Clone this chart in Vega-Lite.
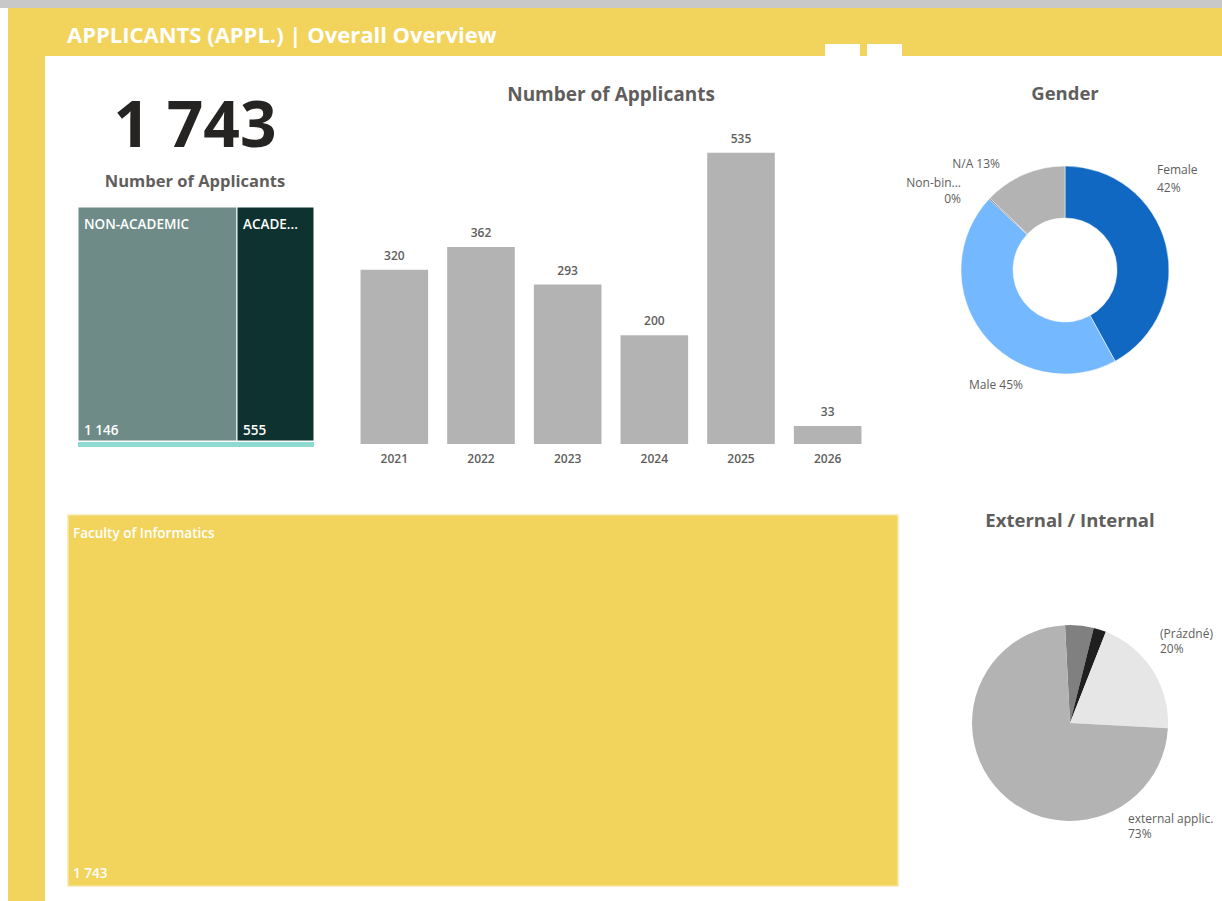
{
  "$schema": "https://vega.github.io/schema/vega-lite/v6.json",
  "padding": 0,
  "background": "#ffffff",
  "spacing": 0,
  "resolve": {"scale": {"color": "independent"}},
  "config": {
    "view": {"stroke": null},
    "concat": {"spacing": 0},
    "font": "Open Sans",
    "text": {"font": "Open Sans"},
    "axis": {"labelFont": "Open Sans"},
    "locale": {"number": {"decimal": ",", "thousands": " ", "grouping": [3], "currency": ["", " Kč"]}}
  },
  "datasets": {
    "blank": [{}],
    "byYear": [
      {"year": "2021", "applicants": 320},
      {"year": "2022", "applicants": 362},
      {"year": "2023", "applicants": 293},
      {"year": "2024", "applicants": 200},
      {"year": "2025", "applicants": 535},
      {"year": "2026", "applicants": 33}
    ],
    "segments": [
      {"segment": "NON-ACADEMIC", "applicants": 1146, "order": 1},
      {"segment": "ACADEMIC", "applicants": 555, "order": 2}
    ],
    "segmentOther": [{"segment": "(Blank)", "applicants": 42}],
    "gender": [
      {"gender": "Female", "applicants": 732, "order": 1},
      {"gender": "Male", "applicants": 784, "order": 2},
      {"gender": "Non-binary", "applicants": 3, "order": 3},
      {"gender": "N/A", "applicants": 224, "order": 4}
    ],
    "faculty": [{"faculty": "Faculty of Informatics", "applicants": 1743}],
    "extint": [
      {"type": "internal applic.", "applicants": 82, "order": 1},
      {"type": "other", "applicants": 36, "order": 2},
      {"type": "(Prázdné)", "applicants": 347, "order": 3},
      {"type": "external applic.", "applicants": 1278, "order": 4}
    ]
  },
  "vconcat": [
    {"width": 1222, "height": 8, "data": {"name": "blank"}, "mark": {"type": "rect", "color": "#C8C8C8"}, "encoding": {}},
    {"hconcat": [
      {"width": 8, "height": 893, "data": {"name": "blank"}, "mark": {"type": "rect", "opacity": 0}, "encoding": {}},
      {"vconcat": [
        {"hconcat": [
          {"width": 817, "height": 48,
           "layer": [
             {"data": {"name": "blank"}, "mark": {"type": "rect", "color": "#F2D35C"}, "encoding": {}},
             {"data": {"values": [{"title": "APPLICANTS (APPL.) | Overall Overview"}]},
              "mark": {"type": "text", "align": "left", "dx": -349.5, "dy": 4, "fontSize": 22, "fontWeight": "bold", "color": "#ffffff"},
              "encoding": {"text": {"field": "title"}}}
           ]},
          {"vconcat": [
            {"width": 35, "height": 36, "data": {"name": "blank"}, "mark": {"type": "rect", "color": "#F2D35C"}, "encoding": {}},
            {"width": 35, "height": 12, "data": {"name": "blank"}, "mark": {"type": "rect", "color": "#ffffff"}, "encoding": {}}
          ], "spacing": 0},
          {"width": 7, "height": 48, "data": {"name": "blank"}, "mark": {"type": "rect", "color": "#F2D35C"}, "encoding": {}},
          {"vconcat": [
            {"width": 35, "height": 36, "data": {"name": "blank"}, "mark": {"type": "rect", "color": "#F2D35C"}, "encoding": {}},
            {"width": 35, "height": 12, "data": {"name": "blank"}, "mark": {"type": "rect", "color": "#ffffff"}, "encoding": {}}
          ], "spacing": 0},
          {"width": 320, "height": 48, "data": {"name": "blank"}, "mark": {"type": "rect", "color": "#F2D35C"}, "encoding": {}}
        ], "spacing": 0},
        {"hconcat": [
          {"width": 37, "height": 845, "data": {"name": "blank"}, "mark": {"type": "rect", "color": "#F2D35C"}, "encoding": {}},
          {"vconcat": [
            {"hconcat": [
              {"vconcat": [
                {"width": 306, "height": 150,
                 "layer": [
                   {"data": {"name": "byYear"},
                    "transform": [{"aggregate": [{"op": "sum", "field": "applicants", "as": "total"}]}],
                    "mark": {"type": "text", "fontSize": 64, "fontWeight": "bold", "color": "#252423", "dx": -3, "dy": -3},
                    "encoding": {"text": {"field": "total", "type": "quantitative", "format": ",d"}}},
                   {"data": {"values": [{"label": "Number of Applicants"}]},
                    "mark": {"type": "text", "fontSize": 16.5, "fontWeight": "bold", "color": "#605E5C", "dx": -3, "dy": 51},
                    "encoding": {"text": {"field": "label"}}}
                 ]},
                {"hconcat": [
                  {"width": 32, "height": 239, "data": {"name": "blank"}, "mark": {"type": "rect", "opacity": 0}, "encoding": {}},
                  {"vconcat": [
                    {"width": 236, "height": 234, "data": {"name": "segments"},
                     "transform": [{"stack": "applicants", "groupby": [], "sort": [{"field": "order", "order": "ascending"}], "as": ["x0", "x1"]}],
                     "layer": [
                       {"mark": {"type": "rect", "stroke": "#ffffff", "strokeWidth": 1},
                        "encoding": {
                          "x": {"field": "x0", "type": "quantitative", "axis": null, "scale": {"nice": false, "zero": true}},
                          "x2": {"field": "x1"},
                          "color": {"field": "segment", "type": "nominal", "legend": null, "scale": {"domain": ["NON-ACADEMIC", "ACADEMIC"], "range": ["#6E8B88", "#0E3230"]}}}},
                       {"transform": [{"filter": "datum.segment === 'NON-ACADEMIC'"}],
                        "mark": {"type": "text", "align": "left", "dx": 6, "dy": -99, "fontSize": 13.5, "fontWeight": 600, "color": "#ffffff"},
                        "encoding": {"x": {"field": "x0", "type": "quantitative"}, "text": {"field": "segment"}}},
                       {"transform": [{"filter": "datum.segment === 'ACADEMIC'"}],
                        "mark": {"type": "text", "align": "left", "dx": 6, "dy": -99, "fontSize": 13.5, "fontWeight": 600, "color": "#ffffff", "limit": 62, "ellipsis": "..."},
                        "encoding": {"x": {"field": "x0", "type": "quantitative"}, "text": {"field": "segment"}}},
                       {"mark": {"type": "text", "align": "left", "dx": 6, "dy": 107, "fontSize": 13.5, "fontWeight": 600, "color": "#ffffff"},
                        "encoding": {"x": {"field": "x0", "type": "quantitative"}, "text": {"field": "applicants", "type": "quantitative", "format": ",d"}}}
                     ]},
                    {"width": 236, "height": 5, "data": {"name": "segmentOther"},
                     "mark": {"type": "rect", "color": "#8ED9D0"},
                     "encoding": {"x": {"field": "applicants", "type": "quantitative", "axis": null, "scale": {"nice": false}}, "x2": {"datum": 0}}}
                  ], "spacing": 0, "resolve": {"scale": {"color": "independent"}}}
                ], "spacing": 0, "resolve": {"scale": {"color": "independent"}}}
              ], "spacing": 0, "resolve": {"scale": {"color": "independent"}}},
              {"width": 520, "height": 388, "data": {"name": "byYear"},
               "layer": [
                 {"mark": {"type": "bar", "color": "#B3B3B3"},
                  "encoding": {
                    "x": {"field": "year", "type": "ordinal", "scale": {"paddingInner": 0.22, "paddingOuter": 0.11},
                          "axis": {"title": null, "domain": false, "ticks": false, "tickSize": 0, "labelPadding": 9, "labelFontSize": 12, "labelFontWeight": 600, "labelColor": "#605E5C", "labelAngle": 0, "grid": false}},
                    "y": {"field": "applicants", "type": "quantitative", "scale": {"domain": [0, 713], "nice": false}, "axis": null}}},
                 {"mark": {"type": "text", "dy": -14, "fontSize": 12, "fontWeight": 600, "color": "#605E5C"},
                  "encoding": {
                    "x": {"field": "year", "type": "ordinal"},
                    "y": {"field": "applicants", "type": "quantitative"},
                    "text": {"field": "applicants", "type": "quantitative", "format": ",d"}}},
                 {"data": {"values": [{"t": "Number of Applicants"}]},
                  "mark": {"type": "text", "dy": -155, "fontSize": 19, "fontWeight": "bold", "color": "#605E5C"},
                  "encoding": {"text": {"field": "t"}}}
               ]},
              {"width": 35, "height": 428, "data": {"name": "blank"}, "mark": {"type": "rect", "opacity": 0}, "encoding": {}},
              {"width": 310, "height": 428,
               "layer": [
                 {"data": {"name": "gender"},
                  "mark": {"type": "arc", "innerRadius": 52, "outerRadius": 104, "stroke": "#ffffff", "strokeWidth": 0.5},
                  "encoding": {
                    "theta": {"field": "applicants", "type": "quantitative", "stack": true},
                    "order": {"field": "order", "type": "quantitative"},
                    "color": {"field": "gender", "type": "nominal", "legend": null, "scale": {"domain": ["Female", "Male", "Non-binary", "N/A"], "range": ["#1168C2", "#74B9FF", "#5A5A5A", "#B3B3B3"]}}}},
                 {"data": {"name": "gender"},
                  "transform": [
                    {"joinaggregate": [{"op": "sum", "field": "applicants", "as": "total"}]},
                    {"calculate": "datum.gender + '\\n' + format(datum.applicants / datum.total, '.0%')", "as": "lab"},
                    {"filter": "datum.gender === 'Female'"}],
                  "mark": {"type": "text", "align": "left", "dx": 92, "dy": -100, "fontSize": 12, "color": "#605E5C", "lineBreak": "\n", "lineHeight": 18},
                  "encoding": {"text": {"field": "lab"}}},
                 {"data": {"name": "gender"},
                  "transform": [
                    {"joinaggregate": [{"op": "sum", "field": "applicants", "as": "total"}]},
                    {"calculate": "datum.gender + ' ' + format(datum.applicants / datum.total, '.0%')", "as": "lab"},
                    {"filter": "datum.gender === 'N/A'"}],
                  "mark": {"type": "text", "align": "right", "dx": -65, "dy": -106, "fontSize": 12, "color": "#605E5C"},
                  "encoding": {"text": {"field": "lab"}}},
                 {"data": {"name": "gender"},
                  "transform": [
                    {"joinaggregate": [{"op": "sum", "field": "applicants", "as": "total"}]},
                    {"calculate": "datum.gender + ' ' + format(datum.applicants / datum.total, '.0%')", "as": "lab"},
                    {"filter": "datum.gender === 'Male'"}],
                  "mark": {"type": "text", "align": "right", "dx": -42, "dy": 115, "fontSize": 12, "color": "#605E5C"},
                  "encoding": {"text": {"field": "lab"}}},
                 {"data": {"name": "gender"},
                  "transform": [
                    {"joinaggregate": [{"op": "sum", "field": "applicants", "as": "total"}]},
                    {"calculate": "format(datum.applicants / datum.total, '.0%')", "as": "lab"},
                    {"filter": "datum.gender === 'Non-binary'"}],
                  "layer": [
                    {"mark": {"type": "text", "align": "right", "dx": -104, "dy": -87, "fontSize": 12, "color": "#605E5C", "limit": 60, "ellipsis": "..."},
                     "encoding": {"text": {"field": "gender"}}},
                    {"mark": {"type": "text", "align": "right", "dx": -104, "dy": -71, "fontSize": 12, "color": "#605E5C"},
                     "encoding": {"text": {"field": "lab"}}}
                  ]},
                 {"data": {"values": [{"t": "Gender"}]},
                  "mark": {"type": "text", "dy": -176, "fontSize": 18.5, "fontWeight": "bold", "color": "#605E5C"},
                  "encoding": {"text": {"field": "t"}}}
               ]}
            ], "spacing": 0, "resolve": {"scale": {"color": "independent"}}},
            {"hconcat": [
              {"width": 22, "height": 401, "data": {"name": "blank"}, "mark": {"type": "rect", "opacity": 0}, "encoding": {}},
              {"vconcat": [
                {"width": 830, "height": 30, "data": {"name": "blank"}, "mark": {"type": "rect", "opacity": 0}, "encoding": {}},
                {"width": 830, "height": 371, "data": {"name": "faculty"},
                 "layer": [
                   {"mark": {"type": "rect", "color": "#F2D35C", "stroke": "#F8E7A8", "strokeWidth": 1.5},
                    "encoding": {"x": {"field": "applicants", "type": "quantitative", "axis": null, "scale": {"nice": false}}, "x2": {"datum": 0}}},
                   {"mark": {"type": "text", "align": "left", "dx": 5, "dy": -167, "fontSize": 13.5, "fontWeight": 600, "color": "#ffffff"},
                    "encoding": {"x": {"datum": 0, "type": "quantitative"}, "text": {"field": "faculty"}}},
                   {"mark": {"type": "text", "align": "left", "dx": 5, "dy": 173, "fontSize": 13.5, "fontWeight": 600, "color": "#ffffff"},
                    "encoding": {"x": {"datum": 0, "type": "quantitative"}, "text": {"field": "applicants", "type": "quantitative", "format": ",d"}}}
                 ]}
              ], "spacing": 0},
              {"width": 21, "height": 401, "data": {"name": "blank"}, "mark": {"type": "rect", "opacity": 0}, "encoding": {}},
              {"vconcat": [
                {"width": 300, "height": 78, "data": {"values": [{"t": "External / Internal"}]},
                 "mark": {"type": "text", "fontSize": 18.5, "fontWeight": "bold", "color": "#605E5C", "dy": -2},
                 "encoding": {"text": {"field": "t"}}},
                {"width": 300, "height": 322,
                 "layer": [
                   {"data": {"name": "extint"},
                    "mark": {"type": "arc", "outerRadius": 98},
                    "encoding": {
                      "theta": {"field": "applicants", "type": "quantitative", "stack": true, "scale": {"range": [-0.0506, 6.2326]}},
                      "order": {"field": "order", "type": "quantitative"},
                      "color": {"field": "type", "type": "nominal", "legend": null, "scale": {"domain": ["internal applic.", "other", "(Prázdné)", "external applic."], "range": ["#808080", "#1F1F1F", "#E6E6E6", "#B3B3B3"]}}}},
                   {"data": {"name": "extint"},
                    "transform": [
                      {"joinaggregate": [{"op": "sum", "field": "applicants", "as": "total"}]},
                      {"calculate": "datum.type + '\\n' + format(datum.applicants / datum.total, '.0%')", "as": "lab"},
                      {"filter": "datum.type === '(Prázdné)'"}],
                    "mark": {"type": "text", "align": "left", "dx": 90, "dy": -89, "fontSize": 12, "color": "#605E5C", "lineBreak": "\n", "lineHeight": 15},
                    "encoding": {"text": {"field": "lab"}}},
                   {"data": {"name": "extint"},
                    "transform": [
                      {"joinaggregate": [{"op": "sum", "field": "applicants", "as": "total"}]},
                      {"calculate": "datum.type + '\\n' + format(datum.applicants / datum.total, '.0%')", "as": "lab"},
                      {"filter": "datum.type === 'external applic.'"}],
                    "mark": {"type": "text", "align": "left", "dx": 58, "dy": 96, "fontSize": 12, "color": "#605E5C", "lineBreak": "\n", "lineHeight": 15},
                    "encoding": {"text": {"field": "lab"}}}
                 ]}
              ], "spacing": 0}
            ], "spacing": 0, "resolve": {"scale": {"color": "independent"}}}
          ], "spacing": 0, "resolve": {"scale": {"color": "independent"}}}
        ], "spacing": 0, "resolve": {"scale": {"color": "independent"}}}
      ], "spacing": 0, "resolve": {"scale": {"color": "independent"}}}
    ], "spacing": 0, "resolve": {"scale": {"color": "independent"}}}
  ]
}
